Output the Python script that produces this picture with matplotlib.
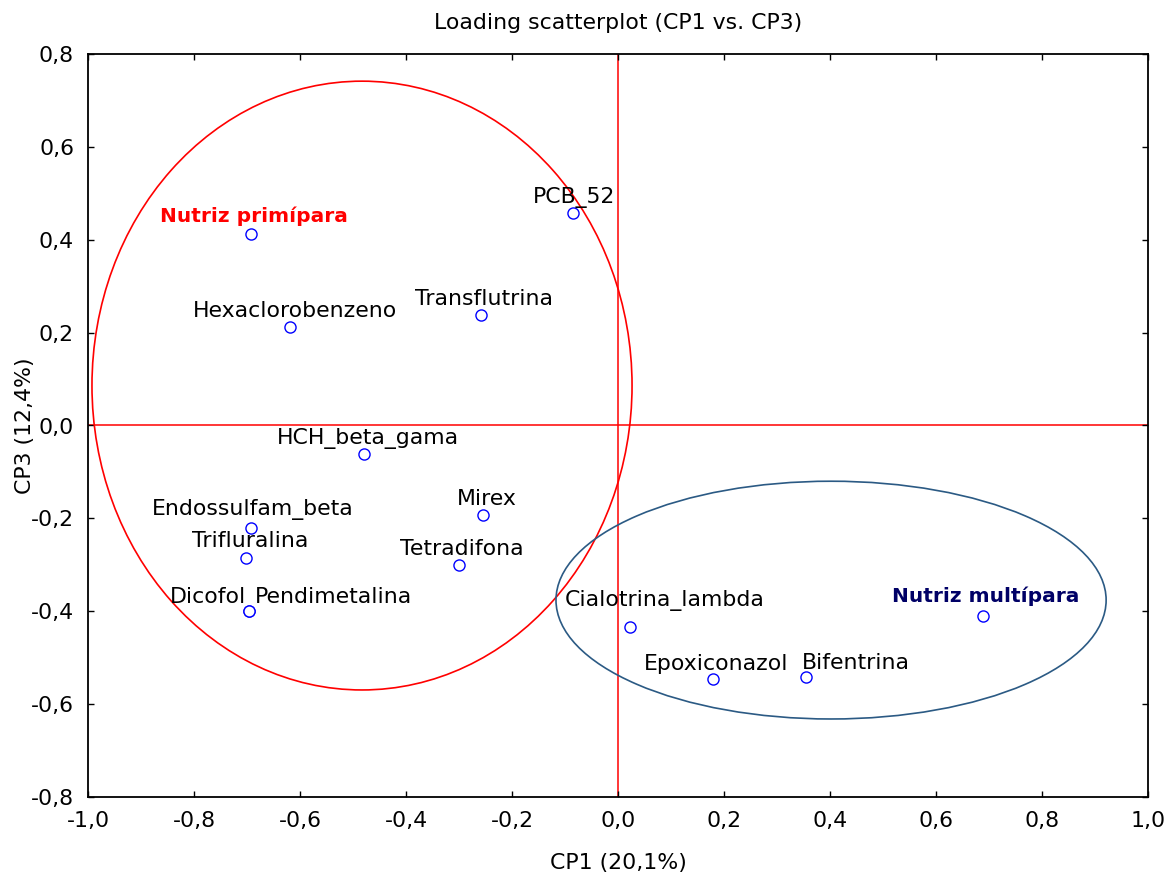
import matplotlib
matplotlib.use("Agg")
from matplotlib import pyplot as plt
from matplotlib.patches import Ellipse
from matplotlib.ticker import FuncFormatter

# loadings on CP1 / CP3
names = [
    "Nutriz primípara", "PCB_52", "Transflutrina", "Hexaclorobenzeno",
    "HCH_beta_gama", "Mirex", "Endossulfam_beta", "Trifluralina",
    "Tetradifona", "Dicofol", "Pendimetalina", "Cialotrina_lambda",
    "Epoxiconazol", "Bifentrina", "Nutriz multípara",
]
cp1 = [-0.692, -0.085, -0.258, -0.619, -0.479, -0.255, -0.692, -0.702,
       -0.300, -0.696, -0.696, 0.023, 0.179, 0.355, 0.689]
cp3 = [0.412, 0.458, 0.238, 0.212, -0.061, -0.193, -0.221, -0.285,
       -0.300, -0.399, -0.399, -0.434, -0.546, -0.542, -0.410]

# group ellipses: (center x, center y, width, height)
group_ellipses = [
    (-0.483, 0.086, 1.019, 1.311),
    (0.402, -0.376, 1.038, 0.512),
]

xticks = [-1.0, -0.8, -0.6, -0.4, -0.2, 0.0, 0.2, 0.4, 0.6, 0.8, 1.0]
yticks = [-0.8, -0.6, -0.4, -0.2, 0.0, 0.2, 0.4, 0.6, 0.8]

# label placement relative to the point, in pixels (dx, dy, ha)
label_pos = {
    "Nutriz primípara": (3, 12, "center"),
    "PCB_52": (1, 9.5, "center"),
    "Transflutrina": (3, 9.5, "center"),
    "Hexaclorobenzeno": (5, 10, "center"),
    "HCH_beta_gama": (4, 9.5, "center"),
    "Mirex": (4, 10.5, "center"),
    "Endossulfam_beta": (2, 13.5, "center"),
    "Trifluralina": (4, 10.5, "center"),
    "Tetradifona": (3, 9.5, "center"),
    "Dicofol": (-3, 7.5, "right"),
    "Pendimetalina": (6, 7.5, "left"),
    "Cialotrina_lambda": (34, 21.5, "center"),
    "Epoxiconazol": (3, 9.5, "center"),
    "Bifentrina": (50, 8.5, "center"),
    "Nutriz multípara": (3, 13.5, "center"),
}
label_style = {
    "Nutriz primípara": dict(color="#ff0000", fontweight="bold", fontsize=14.5),
    "Nutriz multípara": dict(color="#000066", fontweight="bold", fontsize=14.5),
}

plt.rcParams["font.family"] = ["DejaVu Sans"]
FS = 15.8

fig = plt.figure(figsize=(11.69, 8.80), dpi=100)
ax = fig.add_axes([88 / 1169, 83 / 880, 1060 / 1169, 743 / 880])

ax.axvline(0, color="#ff0000", lw=1.1, zorder=1)
ax.axhline(0, color="#ff0000", lw=1.1, zorder=1)

for (cx, cy, w, h), col in zip(group_ellipses, ["#ff0000", "#2b5a84"]):
    ax.add_patch(Ellipse((cx, cy), w, h, fill=False, edgecolor=col, lw=1.2, zorder=2))

ax.plot(cp1, cp3, "o", ms=8, mfc="white", mec="#0000ff", mew=1.0, zorder=3)

for n, x, y in zip(names, cp1, cp3):
    dx, dy, ha = label_pos[n]
    style = label_style.get(n, dict(color="black", fontsize=FS))
    ax.annotate(n, (x, y), xytext=(dx, dy), textcoords="offset pixels",
                ha=ha, va="baseline", zorder=4, **style)

ax.set_xlim(-1.0, 1.0)
ax.set_ylim(-0.8, 0.8)
ax.set_xticks(xticks)
ax.set_yticks(yticks)
fmt = FuncFormatter(lambda v, p: f"{v:.1f}".replace(".", ","))
ax.xaxis.set_major_formatter(fmt)
ax.yaxis.set_major_formatter(fmt)
ax.tick_params(direction="in", length=4, width=1, top=True, right=True,
               labelsize=FS)
ax.tick_params(axis="y", pad=10)
ax.tick_params(axis="x", pad=10)
for s in ax.spines.values():
    s.set_linewidth(1.3)

ax.set_title("Loading scatterplot (CP1 vs. CP3)", fontsize=FS, pad=18)
ax.set_xlabel("CP1 (20,1%)", fontsize=FS, labelpad=16)
ax.set_ylabel("CP3 (12,4%)", fontsize=FS, labelpad=-3)

fig.savefig("out.png", dpi=100)
